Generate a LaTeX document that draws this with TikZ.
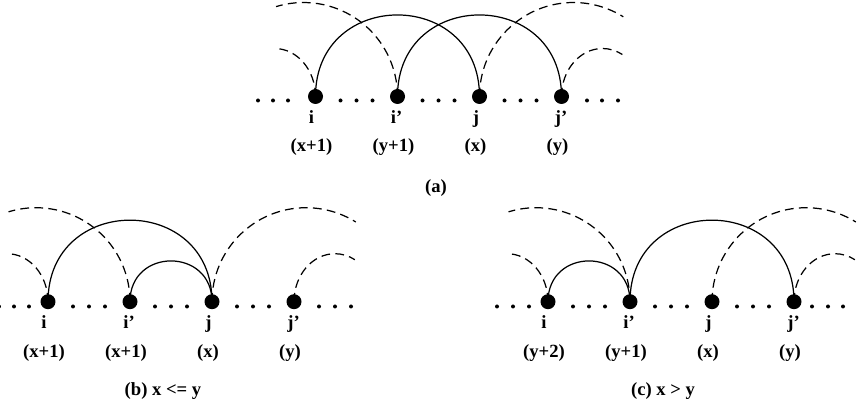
\documentclass[tikz,border=0pt]{standalone}
\usepackage{fontspec}
\setmainfont{Liberation Serif}
\usetikzlibrary{calc}
\tikzset{
  site/.style={circle, fill=black, inner sep=0pt, minimum size=0.3cm},
  toplabel/.style={font=\fontsize{10.6}{12}\selectfont\bfseries, anchor=base west, inner sep=0pt},
  sublabel/.style={font=\fontsize{10.6}{12}\selectfont\bfseries, anchor=base, inner sep=0pt},
  caption/.style={font=\fontsize{10.6}{12}\selectfont\bfseries, anchor=base, inner sep=0pt},
  link/.style={line width=0.7pt},
  prev/.style={line width=0.7pt, dash pattern=on 5pt off 3pt},
}
\begin{document}
\begin{tikzpicture}[x=0.02cm, y=0.02cm]
  \useasboundingbox (0,0) rectangle (862,412);

  % (a)
  \foreach \x in {258,273,288,340.5,356.5,372.5,422.5,438.5,454.5,504.5,520.5,536.5,587,602,618}
    \fill (\x,311.5) circle[radius=0.04cm];
  \node[site] (ai)  at (315.5,315.5) {};
  \node[site] (aip) at (397.5,315.5) {};
  \node[site] (aj)  at (479.5,315.5) {};
  \node[site] (ajp) at (561.5,315.5) {};
  \draw[prev] (ai.center) arc[start angle=0, end angle=90, x radius=0.82cm, y radius=0.96cm];
  \draw[prev] (aip.center) arc[start angle=0, end angle=107, radius=1.88cm];
  \draw[prev] (aj.center) arc[start angle=180, end angle=58, radius=1.88cm];
  \draw[prev] (ajp.center) arc[start angle=180, end angle=61, x radius=0.82cm, y radius=0.96cm];
  \draw[link] (ai.center) to[out=90, in=90, looseness=1.7] (aj.center);
  \draw[link] (aip.center) to[out=90, in=90, looseness=1.7] (ajp.center);
  \node[toplabel] (ain)  at ($(ai)+(-7,-27)$) {i};
  \node[toplabel] (aipn) at ($(aip)+(-7,-27)$) {i'};
  \node[toplabel] (ajn)  at ($(aj)+(-7,-27)$) {j};
  \node[toplabel] (ajpn) at ($(ajp)+(-7,-27)$) {j'};
  \node[sublabel] (air)  at ($(ai)+(-4,-55.5)$) {(x+1)};
  \node[sublabel] (aipr) at ($(aip)+(-4,-55.5)$) {(y+1)};
  \node[sublabel] (ajr)  at ($(aj)+(-4,-55.5)$) {(x)};
  \node[sublabel] (ajpr) at ($(ajp)+(-4,-55.5)$) {(y)};
  \node[caption] (capa) at (436,219.3) {(a)};

  % (b)
  \foreach \x in {-1,14,29,73,89,105,155,171,187,237,253,269,319,335,351}
    \fill (\x,105.5) circle[radius=0.04cm];
  \node[site] (bi)  at (48,110.3) {};
  \node[site] (bip) at (130,110.3) {};
  \node[site] (bj)  at (212,110.3) {};
  \node[site] (bjp) at (294,110.3) {};
  \draw[prev] (bi.center) arc[start angle=0, end angle=90, x radius=0.82cm, y radius=0.96cm];
  \draw[prev] (bip.center) arc[start angle=0, end angle=107, radius=1.88cm];
  \draw[prev] (bj.center) arc[start angle=180, end angle=58, radius=1.88cm];
  \draw[prev] (bjp.center) arc[start angle=180, end angle=61, x radius=0.82cm, y radius=0.96cm];
  \draw[link] (bi.center) to[out=90, in=90, looseness=1.7] (bj.center);
  \draw[link] (bip.center) to[out=90, in=90, looseness=1.7] (bj.center);
  \node[toplabel] (bin)  at ($(bi)+(-7,-27)$) {i};
  \node[toplabel] (bipn) at ($(bip)+(-7,-27)$) {i'};
  \node[toplabel] (bjn)  at ($(bj)+(-7,-27)$) {j};
  \node[toplabel] (bjpn) at ($(bjp)+(-7,-27)$) {j'};
  \node[sublabel] (bir)  at ($(bi)+(-4,-55.5)$) {(x+1)};
  \node[sublabel] (bipr) at ($(bip)+(-4,-55.5)$) {(x+1)};
  \node[sublabel] (bjr)  at ($(bj)+(-4,-55.5)$) {(x)};
  \node[sublabel] (bjpr) at ($(bjp)+(-4,-55.5)$) {(y)};
  \node[caption] (capb) at (163,16.3) {(b) x <= y};

  % (c)
  \foreach \x in {497,513,529,573,589,605,655,671,687,737,753,769,812,828,843}
    \fill (\x,105.5) circle[radius=0.04cm];
  \node[site] (ci)  at (548,110.3) {};
  \node[site] (cip) at (630,110.3) {};
  \node[site] (cj)  at (712,110.3) {};
  \node[site] (cjp) at (794,110.3) {};
  \draw[prev] (ci.center) arc[start angle=0, end angle=90, x radius=0.82cm, y radius=0.96cm];
  \draw[prev] (cip.center) arc[start angle=0, end angle=107, radius=1.88cm];
  \draw[prev] (cj.center) arc[start angle=180, end angle=58, radius=1.88cm];
  \draw[prev] (cjp.center) arc[start angle=180, end angle=61, x radius=0.82cm, y radius=0.96cm];
  \draw[link] (ci.center) to[out=90, in=90, looseness=1.7] (cip.center);
  \draw[link] (cip.center) to[out=90, in=90, looseness=1.7] (cjp.center);
  \node[toplabel] (cin)  at ($(ci)+(-7,-27)$) {i};
  \node[toplabel] (cipn) at ($(cip)+(-7,-27)$) {i'};
  \node[toplabel] (cjn)  at ($(cj)+(-7,-27)$) {j};
  \node[toplabel] (cjpn) at ($(cjp)+(-7,-27)$) {j'};
  \node[sublabel] (cir)  at ($(ci)+(-4,-55.5)$) {(y+2)};
  \node[sublabel] (cipr) at ($(cip)+(-4,-55.5)$) {(y+1)};
  \node[sublabel] (cjr)  at ($(cj)+(-4,-55.5)$) {(x)};
  \node[sublabel] (cjpr) at ($(cjp)+(-4,-55.5)$) {(y)};
  \node[caption] (capc) at (663,16.3) {(c) x > y};
\end{tikzpicture}
\end{document}
